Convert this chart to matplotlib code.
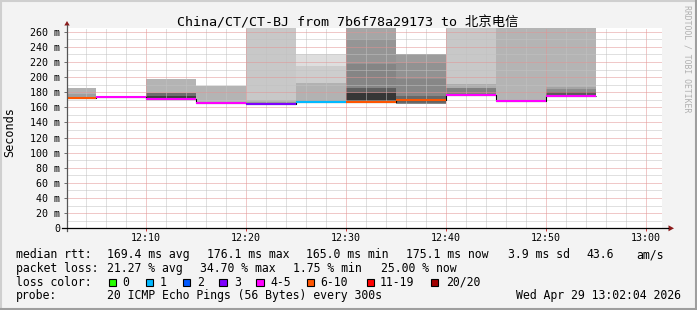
import matplotlib.pyplot as plt
from matplotlib.lines import Line2D
from matplotlib.patches import Rectangle, Polygon
from matplotlib.ticker import MultipleLocator, FixedLocator

plt.rcParams['font.family'] = ['DejaVu Sans Mono', 'Noto Sans CJK SC']

W, H = 697, 310

# one smokeping step = 5 min, value = minutes after 12:00 at end of step
step_end = [5, 10, 15, 20, 25, 30, 35, 40, 45, 50, 55]
median_ms = [172.6, 173.0, 171.6, 165.3, 165.0, 166.6, 167.0, 169.4, 176.1, 167.8, 175.1]
loss_class = [5, 4, 4, 4, 3, 1, 5, 5, 4, 4, 4]

# smoke bands per step, outer to inner
smoke_lo = [
    [171.0, 171.5],
    [172.0],
    [170.5, 171.0, 171.0],
    [164.5, 164.5],
    [164.0, 164.5, 164.5],
    [165.5, 166.0, 166.0, 166.0],
    [166.0, 166.0, 166.0, 166.5, 166.5],
    [164.5, 165.0, 165.0, 165.5],
    [175.5, 176.0, 176.0],
    [167.0],
    [174.5, 175.0, 175.0, 175.0],
]
smoke_hi = [
    [185.5, 178.0],
    [175.5],
    [197.5, 178.5, 175.5],
    [188.0, 167.5],
    [270.0, 170.0, 167.5],
    [230.0, 215.0, 192.0, 169.5],
    [270.0, 250.0, 217.0, 185.0, 178.5],
    [230.0, 218.0, 198.0, 175.5],
    [270.0, 190.5, 186.0],
    [270.0],
    [270.0, 187.0, 184.0, 180.5],
]
smoke_gray = [
    ['#b2b2b2', '#9e9e9e'],
    ['#c4c4c4'],
    ['#b4b4b4', '#6e6e6e', '#404040'],
    ['#b4b4b4', '#a0a0a0'],
    ['#c8c8c8', '#b4b4b4', '#9a9a9a'],
    ['#dedede', '#cdcdcd', '#b2b2b2', '#999999'],
    ['#a6a6a6', '#959595', '#858585', '#5e5e5e', '#363636'],
    ['#9c9c9c', '#929292', '#878787', '#686868'],
    ['#c8c8c8', '#acacac', '#808080'],
    ['#b4b4b4'],
    ['#b4b4b4', '#a4a4a4', '#8c8c8c', '#5a5a5a'],
]

loss_labels = ['0', '1', '2', '3', '4-5', '6-10', '11-19', '20/20']
loss_colors = ['#26ff00', '#00b8ff', '#0059ff', '#7e00ff',
               '#ff00ff', '#ff5500', '#ff0000', '#a10000']

ytick_vals = [0, 20, 40, 60, 80, 100, 120, 140, 160, 180, 200, 220, 240, 260]
ytick_labels = ['0', '20 m', '40 m', '60 m', '80 m', '100 m', '120 m', '140 m',
                '160 m', '180 m', '200 m', '220 m', '240 m', '260 m']
xtick_vals = [10, 20, 30, 40, 50, 60]
xtick_labels = ['12:10', '12:20', '12:30', '12:40', '12:50', '13:00']

title = 'China/CT/CT-BJ from 7b6f78a29173 to 北京电信'
rtt_items = [(16, 'median rtt:'), (107, '169.4 ms avg'), (207, '176.1 ms max'),
             (306, '165.0 ms min'), (406.5, '175.1 ms now'), (507.5, '3.9 ms sd'),
             (586.5, '43.6'), (636, 'am/s')]
loss_items = [(16, 'packet loss:'), (107, '21.27 % avg'), (200, '34.70 % max'),
              (293, '1.75 % min'), (381, '25.00 % now')]
probe_text = '20 ICMP Echo Pings (56 Bytes) every 300s'
stamp = 'Wed Apr 29 13:02:04 2026'


def fx(x):
    return x / W


def fy(y):
    return 1 - y / H


fig = plt.figure(figsize=(W / 100, H / 100), dpi=100, facecolor='#f3f3f3')

# frame
fig.add_artist(Line2D([0, 1], [fy(0.75), fy(0.75)], color='#cfcfcf', lw=1.5))
fig.add_artist(Line2D([fx(0.75), fx(0.75)], [0, 1], color='#cfcfcf', lw=1.5))
fig.add_artist(Line2D([0, 1], [fy(309), fy(309)], color='#9e9e9e', lw=1.5))
fig.add_artist(Line2D([fx(696), fx(696)], [0, 1], color='#9e9e9e', lw=1.5))

ax = fig.add_axes([fx(67), fy(228.3), (662 - 67) / W, (228.3 - 27.7) / H])
ax.set_facecolor('white')
ax.set_xlim(2.1, 61.6)
ax.set_ylim(0, 265.3)

for i, t in enumerate(step_end):
    for lo, hi, g in zip(smoke_lo[i], smoke_hi[i], smoke_gray[i]):
        ax.bar(t - 5, hi - lo, bottom=lo, width=5, align='edge',
               color=g, linewidth=0, zorder=1)

edges = [t - 5 for t in step_end] + [step_end[-1]]
ax.stairs(median_ms, edges, baseline=None, color='#000000', lw=0.8, zorder=3)
ax.hlines(median_ms, [t - 5 for t in step_end], step_end,
          colors=[loss_colors[c] for c in loss_class], lw=1.5, zorder=4,
          capstyle='butt')

ax.set_axisbelow(False)
ax.yaxis.set_major_locator(FixedLocator(ytick_vals))
ax.yaxis.set_minor_locator(MultipleLocator(10))
ax.set_yticklabels(ytick_labels)
ax.xaxis.set_major_locator(FixedLocator(xtick_vals))
ax.xaxis.set_minor_locator(MultipleLocator(2))
ax.set_xticklabels(xtick_labels)
ax.grid(which='major', color='#e39393', linestyle=(0, (1, 1)), lw=0.72)
ax.grid(which='minor', color='#c2c2c2', linestyle=(0, (1, 1)), lw=0.72)
ax.tick_params(which='minor', length=0)
ax.tick_params(axis='y', which='major', length=2.5, width=0.72, color='#707070',
               pad=2.2, labelsize=7.2)
ax.tick_params(axis='x', which='major', length=2.2, width=0.72, color='#d04040',
               pad=1.2, labelsize=7.2)
for s in ax.spines.values():
    s.set_visible(False)

# axes with arrows
fig.add_artist(Line2D([fx(67), fx(67)], [fy(231), fy(25)], color='#555555', lw=0.9))
fig.add_artist(Line2D([fx(62), fx(668)], [fy(228.3), fy(228.3)], color='#000000', lw=0.9))
fig.add_artist(Polygon([(fx(64.3), fy(25.5)), (fx(69.7), fy(25.5)), (fx(67), fy(21))],
                       closed=True, color='#8b1a1a', lw=0))
fig.add_artist(Polygon([(fx(668.5), fy(225.3)), (fx(668.5), fy(231.3)), (fx(674), fy(228.3))],
                       closed=True, color='#8b1a1a', lw=0))

fig.text(fx(348), fy(26), title, fontsize=9.6, ha='center', va='baseline')
fig.text(fx(10), fy(132), 'Seconds', fontsize=8.6, rotation=90,
         ha='center', va='center')
fig.text(fx(687), fy(5), 'RRDTOOL / TOBI OETIKER', fontsize=5.9, rotation=270,
         ha='center', va='top', color='#b0b0b0')

for x, s in rtt_items:
    fig.text(fx(x), fy(258), s, fontsize=8.3, va='baseline')
for x, s in loss_items:
    fig.text(fx(x), fy(272), s, fontsize=8.3, va='baseline')

fig.text(fx(16), fy(285.7), 'loss color:', fontsize=8.3, va='baseline')
box_x = [108.5, 145.7, 182.7, 219.3, 256, 306.7, 366.7, 430.7]
label_x = [122.7, 160, 197.3, 234.3, 270.7, 320.7, 380, 445.7]
for bx, lx, lab, col in zip(box_x, label_x, loss_labels, loss_colors):
    fig.add_artist(Rectangle((fx(bx), fy(286)), 7.5 / W, 7.5 / H,
                             facecolor=col, edgecolor='black', lw=0.8))
    fig.text(fx(lx), fy(285.7), lab, fontsize=8.3, va='baseline')

fig.text(fx(16), fy(299.3), 'probe:', fontsize=8.3, va='baseline')
fig.text(fx(107), fy(299.3), probe_text, fontsize=8.3, va='baseline')
fig.text(fx(681), fy(299.3), stamp, fontsize=8.3, va='baseline', ha='right')

fig.savefig('out.png', dpi=100, facecolor=fig.get_facecolor())
